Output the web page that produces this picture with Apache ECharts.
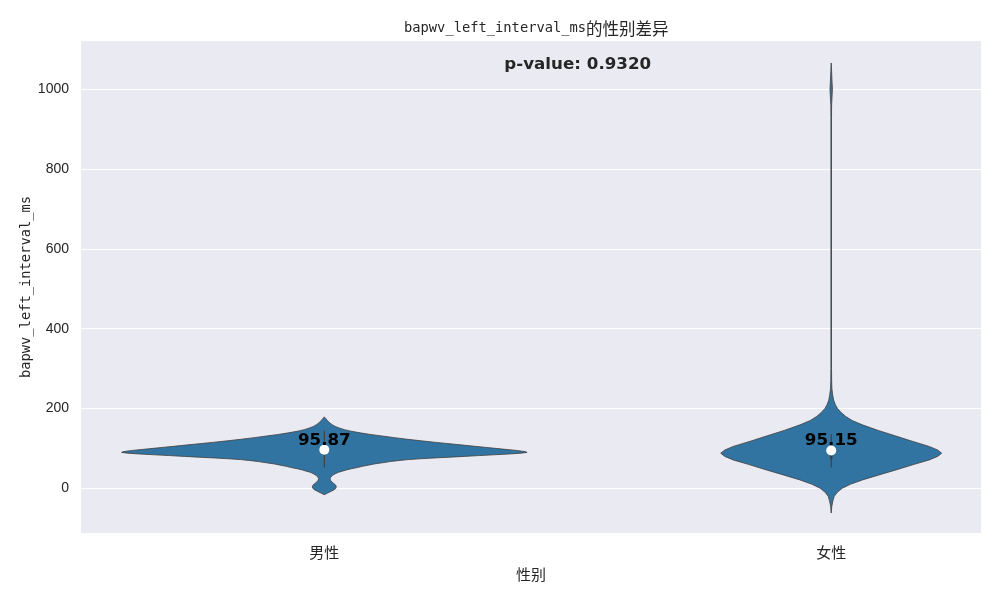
<!DOCTYPE html>
<html><head><meta charset="utf-8">
<script src="https://cdn.jsdelivr.net/npm/echarts@6/dist/echarts.min.js"></script>
<style>html,body{margin:0;padding:0;background:#fff}#c{width:1000px;height:600px}</style>
</head><body><div id="c"></div>
<script>
// ---- data ----
const categories = ['男性', '女性'];
const means = [95.87, 95.15];
const medians = [96.5, 94.6];
const q1 = [85, 73.8];
const q3 = [107, 106];
const whiskerLow = [52, 52];
const whiskerHigh = [144, 136];
const pValue = '0.9320';
const yTicks = [0, 200, 400, 600, 800, 1000];

// violin outlines: value along y, relative density (1 = widest violin)
const maleY = [179, 175, 170, 165, 160, 155, 151, 147, 143, 139, 135, 131, 127, 123, 119, 115, 111, 107, 103, 99, 95, 92, 90, 88, 86, 84, 82, 80, 78, 76, 74, 72, 70, 67, 64, 61, 58, 55, 52, 49, 46, 43, 40, 36, 32, 28, 24, 20, 16, 12, 8, 4, 0, -4, -8, -12, -16];
const maleDensity = [0, .007, .015, .025, .037, .054, .074, .099, .133, .177, .227, .286, .345, .409, .478, .552, .631, .709, .788, .867, .946, .990, 1.0, .970, .911, .837, .764, .690, .621, .542, .473, .414, .374, .325, .286, .246, .217, .187, .163, .133, .108, .089, .069, .052, .039, .032, .028, .031, .037, .047, .056, .059, .057, .047, .032, .016, 0];
const femaleY = [1066, 1045, 1020, 1000, 980, 960, 930, 600, 300, 270, 250, 235, 221, 210, 200, 190, 180, 170, 159, 145, 131, 118, 105, 96, 88, 80, 71, 60, 46, 33, 21, 10, 0, -10, -20, -30, -45, -62];
const femaleDensity = [0, .002, .004, .006, .004, .002, .0015, .0015, .0015, .0022, .0035, .007, .012, .020, .031, .049, .072, .103, .154, .232, .319, .399, .483, .525, .545, .525, .483, .409, .319, .232, .154, .094, .054, .030, .015, .009, .003, 0];

const profiles = [[maleY, maleDensity], [femaleY, femaleDensity]];
const HALF = 0.4;
const FILL = '#3274a1';
const EDGE = '#3f3f3f';
const TXT = '#262626';
const yMaxData = Math.max(...maleY, ...femaleY);

const chart = echarts.init(document.getElementById('c'), null, {renderer: 'canvas'});

function renderViolin(params, api) {
  const i = params.dataIndex;
  const [ys, ds] = profiles[i];
  const right = [], left = [];
  for (let k = 0; k < ys.length; k++) {
    right.push(api.coord([i + ds[k] * HALF, ys[k]]));
    left.push(api.coord([i - ds[k] * HALF, ys[k]]));
  }
  const pts = right.concat(left.reverse());
  const wl = api.coord([i, whiskerLow[i]]), wh = api.coord([i, whiskerHigh[i]]);
  const b1 = api.coord([i, q1[i]]), b3 = api.coord([i, q3[i]]);
  const md = api.coord([i, medians[i]]);
  const mn = api.coord([i, means[i]]);
  return {
    type: 'group',
    children: [
      {type: 'polygon', shape: {points: pts}, style: {fill: FILL, stroke: EDGE, lineWidth: 0.8}},
      {type: 'line', shape: {x1: wl[0], y1: wl[1], x2: wh[0], y2: wh[1]}, style: {stroke: EDGE, lineWidth: 1.1}},
      {type: 'line', shape: {x1: b1[0], y1: b1[1], x2: b3[0], y2: b3[1]}, style: {stroke: EDGE, lineWidth: 2.5}},
      {type: 'circle', shape: {cx: md[0], cy: md[1], r: 5}, style: {fill: '#fff'}},
      {type: 'text', x: mn[0], y: mn[1] - 9.5, style: {
        text: means[i].toFixed(2), fill: '#000', fontFamily: 'DejaVu Sans', fontWeight: 'bold',
        fontSize: 16.7, align: 'center', verticalAlign: 'middle'}}
    ]
  };
}

function renderP(params, api) {
  const p = api.coord([api.value(0), api.value(1)]);
  return {type: 'text', x: p[0], y: p[1] + 1.5, style: {
    text: 'p-value: ' + pValue, fill: TXT, fontFamily: 'DejaVu Sans', fontWeight: 'bold',
    fontSize: 16.7, align: 'center', verticalAlign: 'middle'}};
}

chart.setOption({
  animation: false,
  backgroundColor: '#ffffff',
  title: {
    text: '{m|bapwv_left_interval_ms}{c|的性别差异}',
    left: 399, top: 15,
    textStyle: {fontWeight: 'normal', rich: {
      m: {fontFamily: 'DejaVu Sans Mono', fontSize: 13.75, fontWeight: 'normal', color: TXT},
      c: {fontFamily: 'Noto Sans CJK SC', fontSize: 16.5, fontWeight: 'normal', color: TXT}
    }}
  },
  grid: {left: 81, right: 19, top: 41, bottom: 67, show: true, backgroundColor: '#eaeaf2', borderWidth: 0},
  xAxis: {
    type: 'value', min: -0.48, max: 1.2955,
    name: '性别', nameLocation: 'middle', nameGap: 34, nameMoveOverlap: false,
    nameTextStyle: {fontFamily: 'Noto Sans CJK SC', fontSize: 15, color: TXT},
    axisLine: {show: false}, axisTick: {show: false, customValues: [0, 1]},
    splitLine: {show: false},
    axisLabel: {customValues: [0, 1], formatter: v => categories[Math.round(v)],
      fontFamily: 'Noto Sans CJK SC', fontSize: 15, color: TXT, margin: 12}
  },
  yAxis: {
    type: 'value', min: -112, max: 1121,
    name: 'bapwv_left_interval_ms', nameLocation: 'middle', nameGap: 48, nameMoveOverlap: false,
    nameTextStyle: {fontFamily: 'DejaVu Sans Mono', fontSize: 13.75, color: TXT},
    axisLine: {show: false}, axisTick: {show: false, customValues: yTicks},
    splitLine: {show: true, lineStyle: {color: '#ffffff', width: 1}},
    axisLabel: {customValues: yTicks, formatter: v => String(v),
      fontFamily: 'Liberation Sans', fontSize: 14, color: TXT, margin: 12}
  },
  series: [
    {type: 'custom', renderItem: renderViolin, data: categories.map((c, i) => [i, means[i]]), z: 3},
    {type: 'custom', renderItem: renderP, data: [[0.5, yMaxData]], z: 4}
  ]
});
</script></body></html>
